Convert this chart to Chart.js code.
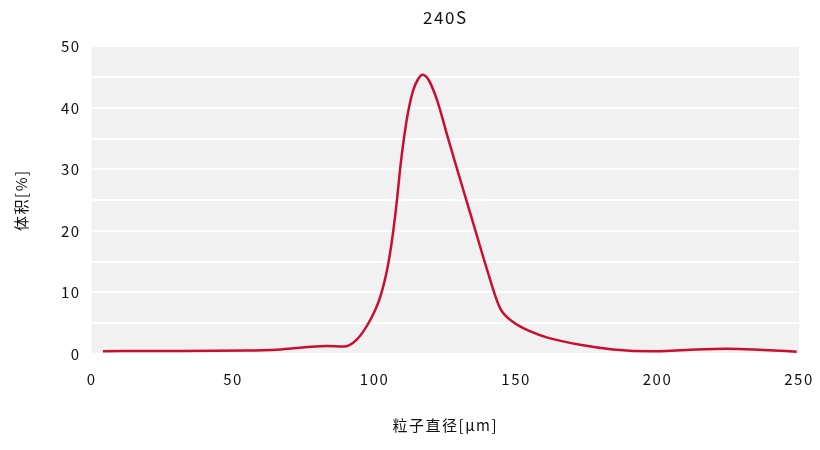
<!DOCTYPE html>
<html>
<head>
<meta charset="utf-8">
<script src="https://cdn.jsdelivr.net/npm/chart.js@4/dist/chart.umd.min.js"></script>
<style>
  html, body { margin: 0; padding: 0; background: #fff; }
  #wrap { width: 820px; height: 450px; }
</style>
</head>
<body>
<div id="wrap"><canvas id="chart"></canvas></div>
<script>
// 粒子直径 (μm) and 体积 (%)
const diameters = [4, 25, 55, 67, 83, 89, 93.6, 98.3, 102, 104.8, 106.6, 107.9, 109.0, 110.3, 111.8, 113.6, 115.4, 116.9,
    118.9, 121.9, 126, 129, 132.5, 136, 139.5, 144.3, 149, 154.9, 160.8, 172.6, 184.3, 198.5, 208, 224.4, 237.4, 249.2];
const volumes = [0.45, 0.5, 0.55, 0.75, 1.3, 1.2, 2.3, 5.4, 9.3, 14.6, 20.0, 25.0, 30.0, 34.8, 39.2, 42.8, 44.7, 45.4,
    44.7, 41.5, 35.0, 30.3, 24.9, 19.5, 14.1, 7.5, 5.2, 3.7, 2.7, 1.5, 0.75, 0.45, 0.6, 0.87, 0.65, 0.38];
const xTicks = [0, 50, 100, 150, 200, 250];
const yTicks = [0, 10, 20, 30, 40, 50];

const points = diameters.map((d, i) => ({ x: d, y: volumes[i] }));
const fontFamily = "'Noto Sans CJK SC', 'Noto Sans', sans-serif";

// gray plot background + letter spacing on every text
const plotBg = {
    id: 'plotBg',
    beforeUpdate(chart) { chart.ctx.letterSpacing = '1.5px'; },
    beforeDraw(chart) {
        const { ctx, chartArea: a } = chart;
        ctx.letterSpacing = '1.5px';
        ctx.save();
        ctx.fillStyle = '#f1f1f1';
        ctx.fillRect(a.left, a.top, a.right - a.left, a.bottom - a.top);
        ctx.restore();
    }
};

new Chart(document.getElementById('chart'), {
    type: 'scatter',
    data: {
        datasets: [{
            label: '240S',
            data: points,
            showLine: true,
            borderColor: '#c8102e',
            borderWidth: 2.5,
            pointRadius: 0,
            cubicInterpolationMode: 'monotone'
        }]
    },
    options: {
        responsive: true,
        maintainAspectRatio: false,
        animation: false,
        layout: { padding: { left: 8, right: 2, top: 4, bottom: 12 } },
        scales: {
            x: {
                type: 'linear',
                min: xTicks[0],
                max: xTicks[xTicks.length - 1],
                grid: { display: false },
                border: { display: false },
                afterFit: scale => { scale.paddingRight = 21; },
                ticks: {
                    stepSize: 50,
                    color: '#111',
                    font: { family: fontFamily, size: 15 },
                    padding: 8
                },
                title: {
                    display: true,
                    text: '粒子直径[μm]',
                    color: '#111',
                    font: { family: fontFamily, size: 15 },
                    padding: { top: 20 }
                }
            },
            y: {
                min: yTicks[0],
                max: yTicks[yTicks.length - 1],
                grid: { color: '#ffffff', lineWidth: 2, drawTicks: false },
                border: { display: false },
                ticks: {
                    stepSize: 5,
                    color: '#111',
                    font: { family: fontFamily, size: 15 },
                    padding: 11,
                    callback: v => yTicks.includes(v) ? v : ''
                },
                title: {
                    display: true,
                    text: '体积[%]',
                    color: '#111',
                    font: { family: fontFamily, size: 15 },
                    padding: { bottom: 20 }
                }
            }
        },
        plugins: {
            legend: { display: false },
            tooltip: { enabled: false },
            title: {
                display: true,
                text: '240S',
                fullSize: false,
                color: '#111',
                font: { family: fontFamily, size: 17, weight: 'normal' },
                padding: { top: 3, bottom: 19 }
            }
        }
    },
    plugins: [plotBg]
});
</script>
</body>
</html>
